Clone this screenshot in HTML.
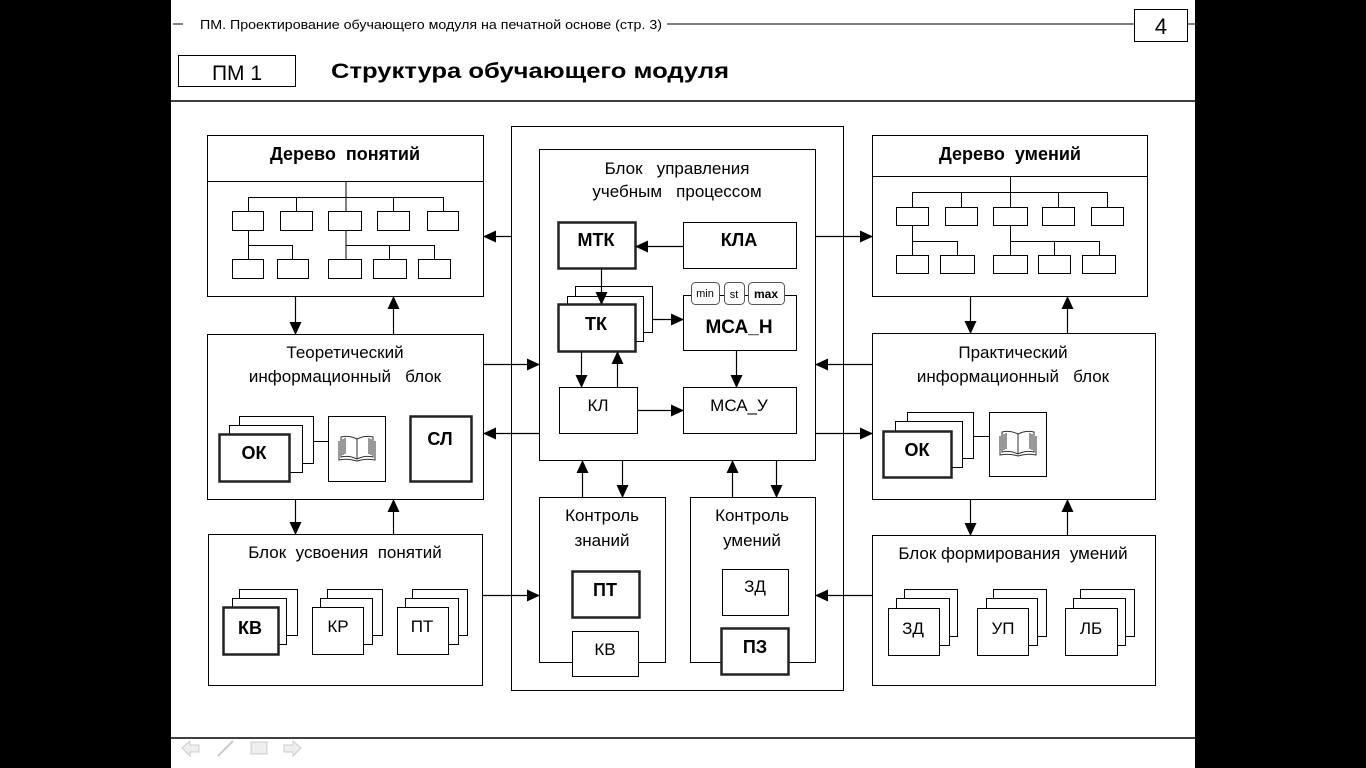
<!DOCTYPE html>
<html><head><meta charset="utf-8"><style>
html,body{margin:0;padding:0;background:#000;}
svg{display:block;}
text{font-family:"Liberation Sans",Arial,sans-serif;fill:#000;white-space:pre;}
</style></head><body>
<svg width="1366" height="768" viewBox="0 0 1366 768" xmlns="http://www.w3.org/2000/svg" xml:space="preserve">
<defs>
<marker id="a" markerUnits="userSpaceOnUse" markerWidth="13" markerHeight="12" refX="12" refY="6" orient="auto"><path d="M0,0 L13,6 L0,12 z" fill="#000"/></marker>
<g id="book" fill="none" stroke="#333" stroke-width="1">
<path d="M-16,-12 Q-8,-14 0,-10 Q8,-14 16,-12 L16,8 Q8,6 0,10 Q-8,6 -16,8 Z"/>
<path d="M-14,-10 L-14,6 M-12,-11 L-12,5 M14,-10 L14,6 M12,-11 L12,5 M0,-10 L0,10"/>
<path d="M-18,-8 L-18,11 Q-9,9 0,12 Q9,9 18,11 L18,-8"/>
</g>
</defs>
<rect x="171" y="0" width="1024" height="768" fill="#fff"/>
<g stroke="#000" fill="none" stroke-width="1">
<line x1="173" y1="24" x2="1195" y2="24"/>
<rect x="1134.5" y="9.5" width="53" height="32" fill="#fff"/>
<rect x="178.5" y="55.5" width="117" height="31"/>
<line x1="171" y1="101" x2="1195" y2="101" stroke-width="1.5"/>
<line x1="171" y1="738" x2="1195" y2="738" stroke-width="1.5"/>
</g>
<rect x="183" y="15" width="484" height="18" fill="#fff"/>
<text x="200" y="29" font-size="13" textLength="462" lengthAdjust="spacingAndGlyphs">ПМ. Проектирование обучающего модуля на печатной основе (стр. 3)</text>
<text x="1161" y="34" font-size="22" text-anchor="middle">4</text>
<text x="237" y="80" font-size="21" text-anchor="middle">ПМ 1</text>
<text x="331" y="78" font-size="21" font-weight="bold" textLength="398" lengthAdjust="spacingAndGlyphs">Структура обучающего модуля</text>
<g fill="#eee" stroke="#ccc">
<path d="M182,748 L190,741 L190,745 L199,745 L199,752 L190,752 L190,756 Z"/>
<path d="M218,756 L233,741" stroke-width="2"/>
<rect x="251" y="742" width="16" height="12"/>
<path d="M301,748 L293,741 L293,745 L284,745 L284,752 L293,752 L293,756 Z"/>
</g>

<g stroke="#000" fill="#fff" stroke-width="1">
<rect x="207.5" y="135.5" width="276" height="161"/>
<line x1="207" y1="181.5" x2="484" y2="181.5"/>
<path d="M346,181 V211 M248.5,197.5 H443.5 M248.5,197 V211 M296.5,197 V211 M393.5,197 V211 M443.5,197 V211" fill="none"/>
<path d="M248.5,230 V259 M248.5,245.5 H292.5 V259 M346,230 V259 M346,245.5 H434.5 V259 M389.5,245.5 V259" fill="none"/>
<rect x="232.5" y="211.5" width="31" height="19"/><rect x="280.5" y="211.5" width="32" height="19"/><rect x="328.5" y="211.5" width="33" height="19"/><rect x="377.5" y="211.5" width="32" height="19"/><rect x="427.5" y="211.5" width="31" height="19"/>
<rect x="232.5" y="259.5" width="31" height="19"/><rect x="277.5" y="259.5" width="31" height="19"/><rect x="328.5" y="259.5" width="33" height="19"/><rect x="373.5" y="259.5" width="33" height="19"/><rect x="418.5" y="259.5" width="32" height="19"/>

<rect x="207.5" y="334.5" width="276" height="165"/>
<rect x="239.5" y="416.5" width="74" height="47"/>
<rect x="229.5" y="425.5" width="73" height="47"/>
<rect x="219.5" y="434.5" width="70" height="47" stroke-width="2.5" stroke="#222"/>
<line x1="313" y1="441.5" x2="328" y2="441.5"/>
<rect x="328.5" y="416.5" width="57" height="65"/>
<rect x="410.5" y="416.5" width="61" height="65" stroke-width="2.5" stroke="#222"/>

<rect x="208.5" y="534.5" width="274" height="151"/>
<rect x="239.5" y="589.5" width="58" height="46"/><rect x="232.5" y="598.5" width="54" height="46"/><rect x="223.5" y="607.5" width="55" height="47" stroke-width="2.5" stroke="#222"/>
<rect x="327.5" y="589.5" width="55" height="46"/><rect x="320.5" y="598.5" width="52" height="46"/><rect x="312.5" y="607.5" width="51" height="47"/>
<rect x="412.5" y="589.5" width="55" height="46"/><rect x="405.5" y="598.5" width="53" height="46"/><rect x="397.5" y="607.5" width="51" height="47"/>

<rect x="511.5" y="126.5" width="332" height="564"/>
<rect x="539.5" y="149.5" width="276" height="311"/>
<rect x="558.5" y="222.5" width="77" height="46" stroke-width="2.5" stroke="#222"/>
<rect x="683.5" y="222.5" width="113" height="46"/>
<rect x="575.5" y="286.5" width="77" height="46"/>
<rect x="567.5" y="296.5" width="76" height="45"/>
<rect x="558.5" y="304.5" width="77" height="47" stroke-width="2.5" stroke="#222"/>
<rect x="683.5" y="295.5" width="113" height="55"/>
<rect x="691.5" y="282.5" width="28" height="22" rx="4" stroke="#555"/>
<rect x="724.5" y="282.5" width="20" height="22" rx="4" stroke="#555"/>
<rect x="748.5" y="282.5" width="36" height="22" rx="4" stroke="#555"/>
<rect x="559.5" y="387.5" width="78" height="46"/>
<rect x="683.5" y="387.5" width="113" height="46"/>

<rect x="539.5" y="497.5" width="126" height="165"/>
<rect x="572.5" y="571.5" width="67" height="46" stroke-width="2.5" stroke="#222"/>
<rect x="572.5" y="631.5" width="66" height="45"/>
<rect x="690.5" y="497.5" width="125" height="165"/>
<rect x="722.5" y="569.5" width="66" height="46"/>
<rect x="721.5" y="628.5" width="67" height="46" stroke-width="2.5" stroke="#222"/>

<rect x="872.5" y="135.5" width="275" height="161"/>
<line x1="872" y1="176.5" x2="1148" y2="176.5"/>
<path d="M1010.5,176 V207 M912.5,192.5 H1107.5 M912.5,192 V207 M961.5,192 V207 M1058.5,192 V207 M1107.5,192 V207" fill="none"/>
<path d="M912.5,225 V255 M912.5,241.5 H957.5 V255 M1010.5,225 V255 M1010.5,241.5 H1099.5 V255 M1054.5,241.5 V255" fill="none"/>
<rect x="896.5" y="207.5" width="32" height="18"/><rect x="945.5" y="207.5" width="32" height="18"/><rect x="993.5" y="207.5" width="34" height="18"/><rect x="1042.5" y="207.5" width="32" height="18"/><rect x="1091.5" y="207.5" width="32" height="18"/>
<rect x="896.5" y="255.5" width="32" height="18"/><rect x="940.5" y="255.5" width="34" height="18"/><rect x="993.5" y="255.5" width="34" height="18"/><rect x="1038.5" y="255.5" width="32" height="18"/><rect x="1082.5" y="255.5" width="33" height="18"/>

<rect x="872.5" y="333.5" width="283" height="166"/>
<rect x="907.5" y="412.5" width="66" height="46"/>
<rect x="895.5" y="421.5" width="67" height="46"/>
<rect x="883.5" y="431.5" width="68" height="46" stroke-width="2.5" stroke="#222"/>
<line x1="973" y1="436.5" x2="989" y2="436.5"/>
<rect x="989.5" y="412.5" width="57" height="64"/>

<rect x="872.5" y="535.5" width="283" height="150"/>
<rect x="904.5" y="589.5" width="53" height="47"/><rect x="896.5" y="598.5" width="53" height="47"/><rect x="888.5" y="608.5" width="51" height="47"/>
<rect x="993.5" y="589.5" width="53" height="47"/><rect x="986.5" y="598.5" width="51" height="47"/><rect x="977.5" y="608.5" width="51" height="47"/>
<rect x="1080.5" y="589.5" width="54" height="47"/><rect x="1073.5" y="598.5" width="52" height="47"/><rect x="1065.5" y="608.5" width="52" height="47"/>
</g>

<use href="#book" x="357" y="449"/>
<use href="#book" x="1018" y="444"/>

<g stroke="#000" stroke-width="1.2" fill="none" marker-end="url(#a)">
<line x1="511" y1="236.5" x2="484" y2="236.5"/>
<line x1="484" y1="364.5" x2="539" y2="364.5"/>
<line x1="539" y1="433.5" x2="484" y2="433.5"/>
<line x1="815" y1="236.5" x2="872" y2="236.5"/>
<line x1="872" y1="364.5" x2="816" y2="364.5"/>
<line x1="815" y1="433.5" x2="872" y2="433.5"/>
<line x1="295.5" y1="296" x2="295.5" y2="334"/>
<line x1="393.5" y1="334" x2="393.5" y2="297"/>
<line x1="295.5" y1="499" x2="295.5" y2="534"/>
<line x1="393.5" y1="534" x2="393.5" y2="500"/>
<line x1="970.5" y1="296" x2="970.5" y2="333"/>
<line x1="1067.5" y1="333" x2="1067.5" y2="297"/>
<line x1="970.5" y1="499" x2="970.5" y2="535"/>
<line x1="1067.5" y1="535" x2="1067.5" y2="500"/>
<line x1="483" y1="595.5" x2="539" y2="595.5"/>
<line x1="872" y1="595.5" x2="816" y2="595.5"/>
<line x1="582.5" y1="497" x2="582.5" y2="461"/>
<line x1="622.5" y1="461" x2="622.5" y2="497"/>
<line x1="732.5" y1="497" x2="732.5" y2="461"/>
<line x1="776.5" y1="461" x2="776.5" y2="497"/>
<line x1="683" y1="246.5" x2="636" y2="246.5"/>
<line x1="601.5" y1="269" x2="601.5" y2="304"/>
<line x1="652" y1="319.5" x2="683" y2="319.5"/>
<line x1="736.5" y1="351" x2="736.5" y2="387"/>
<line x1="581.5" y1="352" x2="581.5" y2="387"/>
<line x1="617.5" y1="387" x2="617.5" y2="352"/>
<line x1="638" y1="410.5" x2="683" y2="410.5"/>
</g>

<g font-size="17" text-anchor="middle">
<text x="345" y="160" font-weight="bold" font-size="18">Дерево  понятий</text>
<text x="1010" y="160" font-weight="bold" font-size="18">Дерево  умений</text>
<text x="345" y="358">Теоретический</text>
<text x="345" y="382">информационный   блок</text>
<text x="1013" y="358">Практический</text>
<text x="1013" y="382">информационный   блок</text>
<text x="345" y="558">Блок  усвоения  понятий</text>
<text x="1013" y="559">Блок формирования  умений</text>
<text x="677" y="174">Блок   управления</text>
<text x="677" y="197">учебным   процессом</text>
<text x="602" y="521">Контроль</text>
<text x="602" y="546">знаний</text>
<text x="752" y="521">Контроль</text>
<text x="752" y="546">умений</text>
<g font-weight="bold" font-size="18">
<text x="254" y="459">ОК</text>
<text x="440" y="445">СЛ</text>
<text x="917" y="456">ОК</text>
<text x="250" y="634">КВ</text>
<text x="596" y="246">МТК</text>
<text x="739" y="246">КЛА</text>
<text x="596" y="330">ТК</text>
<text x="605" y="596">ПТ</text>
<text x="755" y="653">ПЗ</text>
</g>
<text x="338" y="632">КР</text>
<text x="422" y="632">ПТ</text>
<text x="913" y="634">ЗД</text>
<text x="1003" y="634">УП</text>
<text x="1091" y="634">ЛБ</text>
<text x="739" y="333" font-weight="bold" font-size="19">МСА_Н</text>
<text x="598" y="411">КЛ</text>
<text x="739" y="411">МСА_У</text>
<text x="605" y="655">КВ</text>
<text x="755" y="592">ЗД</text>
</g>
<g font-size="11" text-anchor="middle">
<text x="705" y="297">min</text>
<text x="734" y="298">st</text>
<text x="766" y="298" font-weight="bold" font-size="12">max</text>
</g>
</svg>
</body></html>
